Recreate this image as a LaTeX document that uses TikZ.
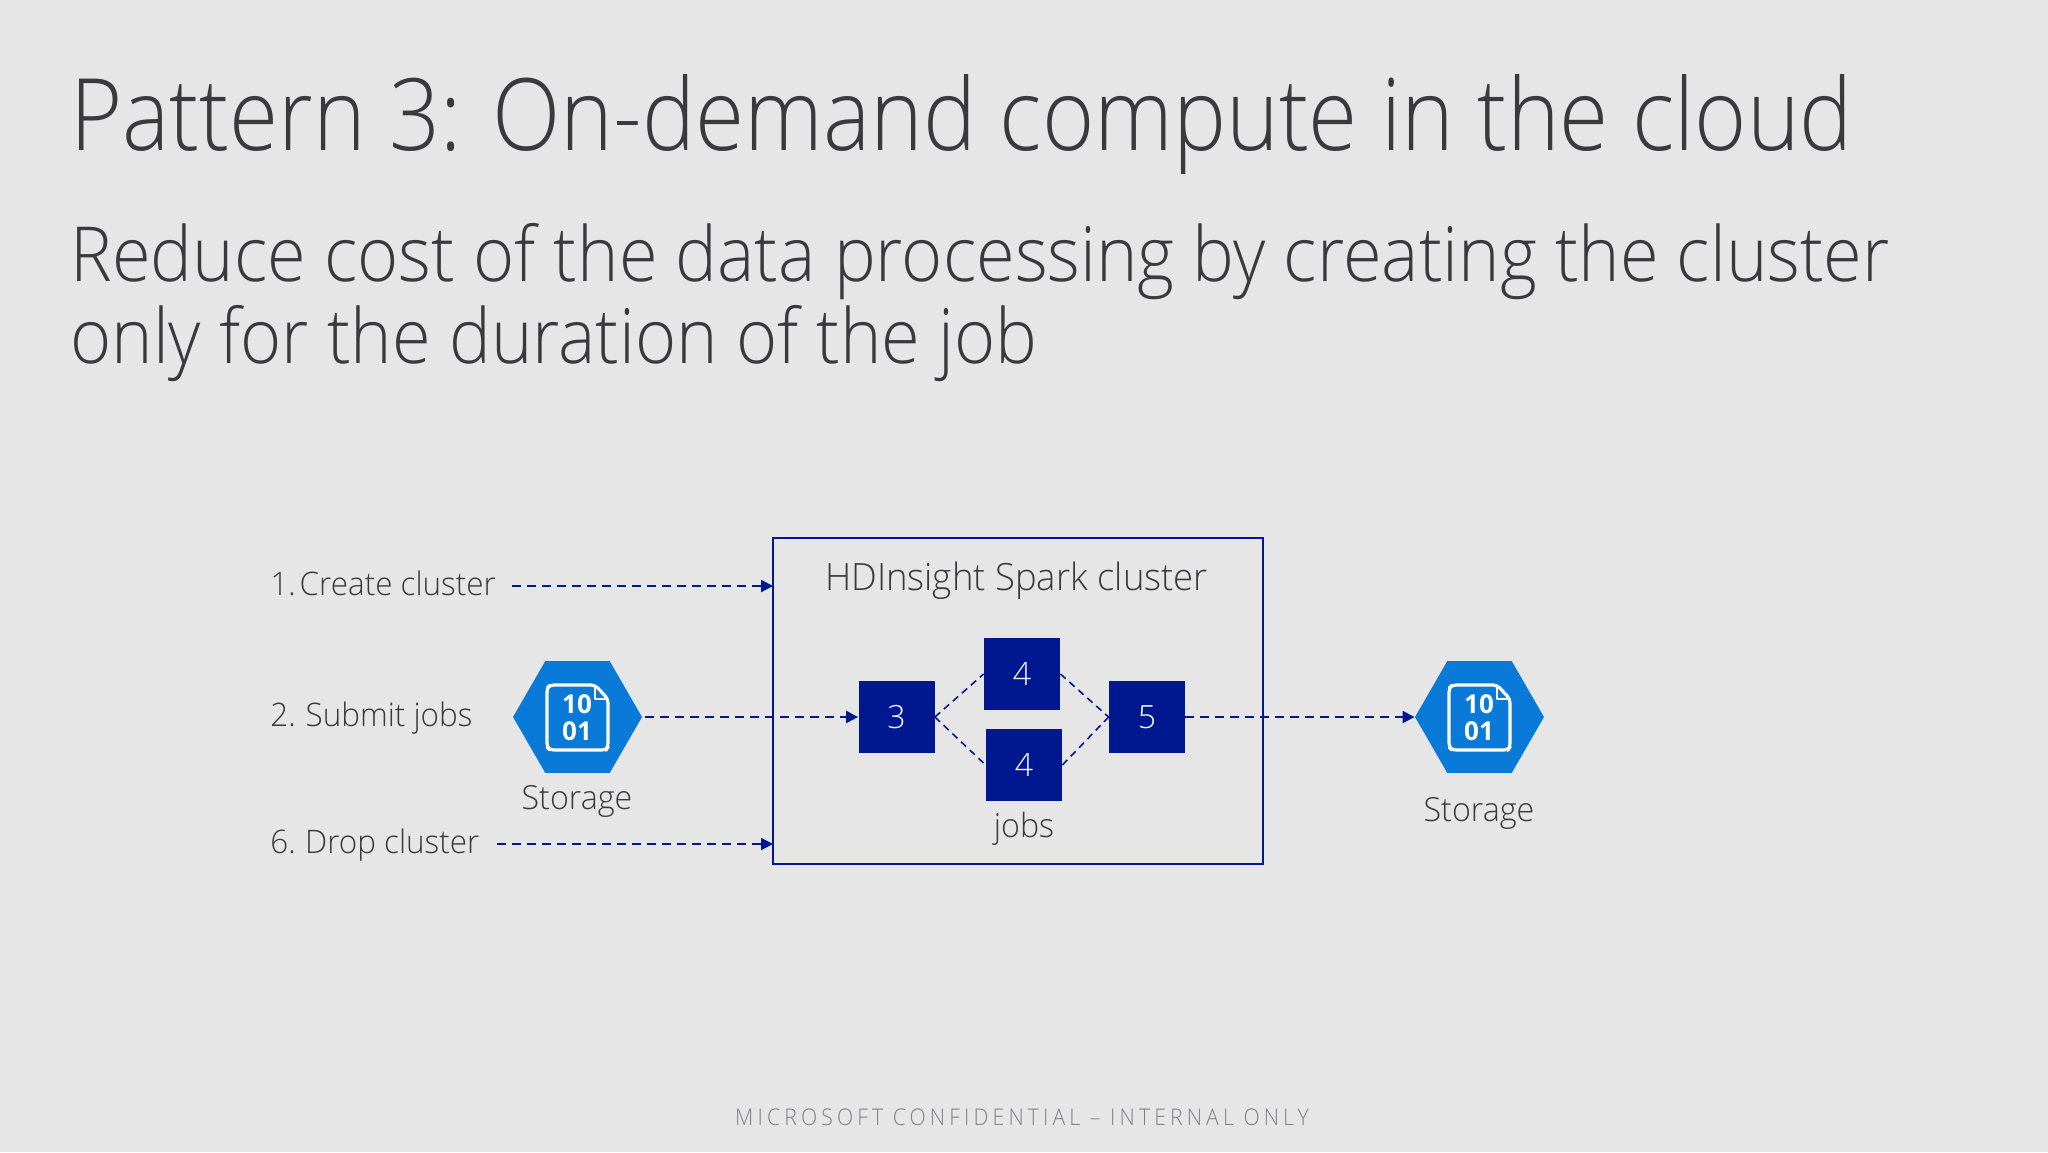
\documentclass[tikz,border=0pt]{standalone}
\usepackage{fontspec}
\usetikzlibrary{arrows.meta,shapes.geometric}
\setmainfont{Open Sans Light}
\newfontfamily\titlefont{Open Sans Light}[FakeStretch=0.893]
\newfontfamily\subfont{Open Sans Light}[FakeStretch=0.925]
\newfontfamily\lblfont{Open Sans Light}[FakeStretch=0.97]
\newfontfamily\footfont{Open Sans Light}[FakeStretch=0.92,LetterSpace=18]
\newfontfamily\boldicon{Open Sans}[BoldFont={Open Sans Bold}]
\definecolor{bgc}{HTML}{E6E6E7}
\definecolor{navy}{HTML}{00188F}
\definecolor{azure}{HTML}{0A7AD8}
\definecolor{ink}{HTML}{3A3A3C}
\definecolor{foot}{HTML}{808084}
\tikzset{
  x=0.5pt,y=-0.5pt,
  flow/.style={navy,line width=1.1pt,dash pattern=on 4.5pt off 3pt,-{Triangle[length=6pt,width=6pt]}},
  link/.style={navy,line width=0.8pt,dash pattern=on 3.5pt off 2.5pt},
  jobbox/.style={fill=navy,text=white,inner sep=0pt,minimum width=38pt,minimum height=36pt,font=\fontsize{16}{16}\selectfont},
  hex/.style={regular polygon,regular polygon sides=6,fill=azure,inner sep=0pt,minimum size=64.5pt},
  lbl/.style={text=ink,inner sep=0pt,font=\lblfont\fontsize{16.6}{16}\selectfont},
  sidelbl/.style={lbl,anchor=base west,font=\lblfont\fontsize{16.2}{16}\selectfont},
  bits/.style={text=white,inner sep=0pt,font=\boldicon\bfseries\fontsize{13}{12}\selectfont},
}
\begin{document}
\begin{tikzpicture}
\useasboundingbox (0,0) rectangle (2048,1152);
\fill[bgc] (0,0) rectangle (2048,1152);
\node[anchor=base west,text=ink,inner sep=0pt,font=\titlefont\fontsize{50}{50}\selectfont] (title) at (70,150) {Pattern 3: On-demand compute in the cloud};
\node[anchor=base west,text=ink,inner sep=0pt,font=\subfont\fontsize{38}{38}\selectfont] (sub1) at (70,281) {Reduce cost of the data processing by creating the cluster};
\node[anchor=base west,text=ink,inner sep=0pt,font=\subfont\fontsize{38}{38}\selectfont] (sub2) at (70,363) {only for the duration of the job};

\node[draw=navy,line width=1pt,minimum width=245pt,minimum height=163pt,inner sep=0pt] (cluster) at (1018,701) {};
\node[lbl,anchor=base] (ctitle) at (1016.5,590) {\fontsize{18.8}{18}\selectfont HDInsight Spark cluster};

\node[sidelbl] (l1) at (270,595) {1.\kern-3.5pt{} Create cluster};
\node[sidelbl] (l2) at (270,726) {2.\kern-0.5pt{} Submit jobs};
\node[sidelbl] (l6) at (270,853) {6.\kern-0.8pt{} Drop cluster};
\coordinate (c1) at (512,586);
\coordinate (c1e) at (773,586);
\coordinate (c6) at (497,844);
\coordinate (c6e) at (773,844);

\node[hex] (hl) at (577.5,717) {};
\node[hex] (hr) at (1479.5,717) {};
\foreach \h/\dx in {hl/0,hr/902}{
  \begin{scope}[xshift=\dx*0.5pt]
  \draw[white,line width=1.6pt,line join=round,rounded corners=2pt] (595,685) -- (550,685) -- (547,688) -- (547,747) -- (550,750) -- (606,750) -- (608,747) -- (608,699) -- cycle;
  \draw[white,line width=1.3pt,line join=round] (595,685) -- (595,699) -- (608,699);
  \end{scope}
}
\node[bits] (bl1) at (577,704) {10};
\node[bits] (bl2) at (577,731) {01};
\node[bits] (br1) at (1479,704) {10};
\node[bits] (br2) at (1479,731) {01};
\node[lbl,anchor=base] (sl) at (577,809) {Storage};
\node[lbl,anchor=base] (sr) at (1479,821) {Storage};

\node[jobbox] (j3) at (896.5,717) {3};
\node[jobbox] (j4a) at (1022,674) {4};
\node[jobbox] (j4b) at (1024,765) {4};
\node[jobbox] (j5) at (1147,717) {5};
\node[lbl,anchor=base] (jobs) at (1024,837) {jobs};

\draw[flow] (c1) -- (c1e);
\draw[flow] (c6) -- (c6e);
\draw[flow,shorten <=1.5pt] (hl.east) -- (j3.west);
\draw[flow] (j5.east) -- (hr.west);
\draw[link] (j3.east) -- (j4a.west);
\draw[link] (j3.east) -- (j4b.west);
\draw[link] (j4a.east) -- (j5.west);
\draw[link] (j4b.east) -- (j5.west);

\node[anchor=base,text=foot,inner sep=0pt,font=\footfont\fontsize{11.5}{11}\selectfont] (foot) at (1022,1125) {MICROSOFT CONFIDENTIAL – INTERNAL ONLY};
\end{tikzpicture}
\end{document}
